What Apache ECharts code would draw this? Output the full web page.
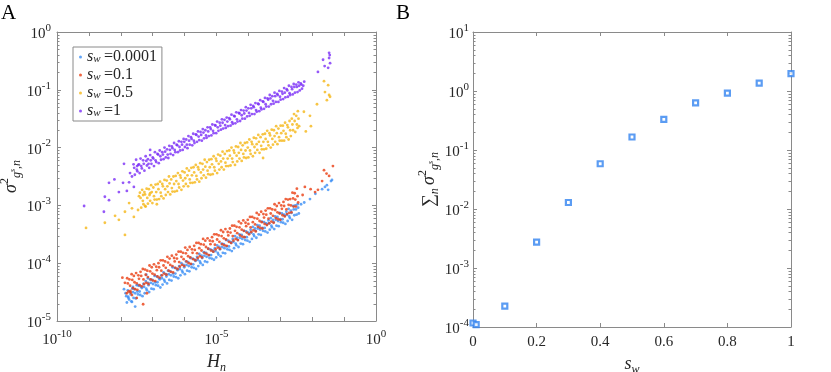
<!DOCTYPE html>
<html>
<head>
<meta charset="utf-8">
<script src="https://cdn.jsdelivr.net/npm/echarts@6/dist/echarts.min.js"></script>
<style>
html,body{margin:0;padding:0;background:#fff;}
#chart{width:831px;height:372px;}
</style>
</head>
<body>
<div id="chart"></div>
<script>
// panel A: [log10 H_n, log10 sigma^2]
var sw0001 = [
[-7.85,-4.52],[-7.81,-4.68],[-7.83,-4.57],[-7.78,-4.47],[-7.74,-4.63],[-7.76,-4.60],[-7.71,-4.50],[-7.67,-4.66],[-7.69,-4.54],
[-7.64,-4.44],[-7.60,-4.60],[-7.62,-4.50],[-7.57,-4.45],[-7.53,-4.61],[-7.55,-4.52],[-7.50,-4.38],[-7.46,-4.54],[-7.48,-4.49],
[-7.43,-4.39],[-7.39,-4.55],[-7.41,-4.49],[-7.36,-4.41],[-7.32,-4.57],[-7.34,-4.43],[-7.29,-4.36],[-7.25,-4.52],[-7.27,-4.41],
[-7.22,-4.31],[-7.18,-4.47],[-7.20,-4.44],[-7.15,-4.34],[-7.11,-4.50],[-7.13,-4.38],[-7.08,-4.28],[-7.04,-4.44],[-7.06,-4.34],
[-7.01,-4.29],[-6.97,-4.45],[-6.99,-4.36],[-6.94,-4.22],[-6.90,-4.38],[-6.92,-4.33],[-6.87,-4.23],[-6.83,-4.39],[-6.85,-4.33],
[-6.80,-4.26],[-6.76,-4.42],[-6.78,-4.28],[-6.73,-4.21],[-6.69,-4.37],[-6.71,-4.26],[-6.66,-4.16],[-6.62,-4.32],[-6.64,-4.29],
[-6.59,-4.19],[-6.55,-4.35],[-6.57,-4.23],[-6.52,-4.13],[-6.48,-4.29],[-6.50,-4.19],[-6.45,-4.14],[-6.41,-4.30],[-6.43,-4.21],
[-6.38,-4.07],[-6.34,-4.23],[-6.36,-4.18],[-6.31,-4.08],[-6.27,-4.24],[-6.29,-4.18],[-6.24,-4.10],[-6.20,-4.26],[-6.22,-4.12],
[-6.17,-4.05],[-6.13,-4.21],[-6.15,-4.10],[-6.10,-4.00],[-6.06,-4.16],[-6.08,-4.13],[-6.03,-4.03],[-5.99,-4.19],[-6.01,-4.07],
[-5.96,-3.97],[-5.92,-4.13],[-5.94,-4.03],[-5.89,-3.98],[-5.85,-4.14],[-5.87,-4.05],[-5.82,-3.91],[-5.78,-4.07],[-5.80,-4.02],
[-5.75,-3.92],[-5.71,-4.08],[-5.73,-4.02],[-5.68,-3.94],[-5.64,-4.10],[-5.66,-3.96],[-5.61,-3.89],[-5.57,-4.05],[-5.59,-3.94],
[-5.54,-3.84],[-5.50,-4.00],[-5.52,-3.97],[-5.47,-3.87],[-5.43,-4.03],[-5.45,-3.91],[-5.40,-3.81],[-5.36,-3.97],[-5.38,-3.87],
[-5.33,-3.82],[-5.29,-3.98],[-5.31,-3.89],[-5.26,-3.75],[-5.22,-3.91],[-5.24,-3.86],[-5.19,-3.76],[-5.15,-3.92],[-5.17,-3.86],
[-5.12,-3.78],[-5.08,-3.94],[-5.10,-3.80],[-5.05,-3.74],[-5.01,-3.90],[-5.03,-3.79],[-4.98,-3.69],[-4.94,-3.85],[-4.96,-3.82],
[-4.91,-3.72],[-4.87,-3.88],[-4.89,-3.76],[-4.84,-3.66],[-4.80,-3.82],[-4.82,-3.72],[-4.77,-3.67],[-4.73,-3.83],[-4.75,-3.74],
[-4.70,-3.60],[-4.66,-3.76],[-4.68,-3.71],[-4.63,-3.61],[-4.59,-3.77],[-4.61,-3.71],[-4.56,-3.63],[-4.52,-3.79],[-4.54,-3.65],
[-4.49,-3.58],[-4.45,-3.74],[-4.47,-3.63],[-4.42,-3.53],[-4.38,-3.69],[-4.40,-3.66],[-4.35,-3.56],[-4.31,-3.72],[-4.33,-3.60],
[-4.28,-3.50],[-4.24,-3.66],[-4.26,-3.56],[-4.21,-3.51],[-4.17,-3.67],[-4.19,-3.58],[-4.14,-3.44],[-4.10,-3.60],[-4.12,-3.55],
[-4.07,-3.45],[-4.03,-3.61],[-4.05,-3.55],[-4.00,-3.47],[-3.96,-3.63],[-3.98,-3.49],[-3.93,-3.42],[-3.89,-3.58],[-3.91,-3.47],
[-3.86,-3.37],[-3.82,-3.53],[-3.84,-3.50],[-3.79,-3.40],[-3.75,-3.56],[-3.77,-3.44],[-3.72,-3.34],[-3.68,-3.50],[-3.70,-3.40],
[-3.65,-3.35],[-3.61,-3.51],[-3.63,-3.42],[-3.58,-3.28],[-3.54,-3.44],[-3.56,-3.39],[-3.51,-3.29],[-3.47,-3.45],[-3.49,-3.39],
[-3.44,-3.31],[-3.40,-3.47],[-3.42,-3.33],[-3.37,-3.26],[-3.33,-3.42],[-3.35,-3.31],[-3.30,-3.22],[-3.26,-3.38],[-3.28,-3.35],
[-3.23,-3.25],[-3.19,-3.41],[-3.21,-3.29],[-3.16,-3.19],[-3.12,-3.35],[-3.14,-3.25],[-3.09,-3.20],[-3.05,-3.36],[-3.07,-3.27],
[-3.02,-3.13],[-2.98,-3.29],[-3.00,-3.24],[-2.95,-3.14],[-2.91,-3.30],[-2.93,-3.24],[-2.88,-3.16],[-2.84,-3.32],[-2.86,-3.18],
[-2.81,-3.11],[-2.77,-3.27],[-2.79,-3.16],[-2.74,-3.06],[-2.70,-3.22],[-2.72,-3.19],[-2.67,-3.09],[-2.63,-3.25],[-2.65,-3.13],
[-2.60,-3.01],[-2.56,-3.17],[-2.58,-3.07],[-2.53,-3.00],[-2.49,-3.16],[-2.51,-3.07],[-2.46,-2.98],[-2.42,-3.14],[-2.44,-3.04],
[-7.65,-4.67],[-7.77,-4.58],[-7.62,-4.41],[-7.46,-4.38],[-7.15,-4.26],[-7.90,-4.45],[-7.55,-4.75],[-7.20,-4.20],
[-1.54,-2.65],[-1.41,-2.58],[-1.38,-2.56],[-1.69,-2.72],[-2.07,-2.89],[-1.50,-2.73],[-2.25,-2.95],[-1.90,-2.80],[-2.35,-2.98],[-1.60,-2.68]
];
var sw01 = [
[-7.80,-4.26],[-7.76,-4.49],[-7.78,-4.35],[-7.73,-4.28],[-7.69,-4.51],[-7.71,-4.39],[-7.66,-4.19],[-7.62,-4.43],[-7.64,-4.29],
[-7.59,-4.22],[-7.55,-4.45],[-7.57,-4.33],[-7.52,-4.17],[-7.48,-4.46],[-7.50,-4.35],[-7.45,-4.21],[-7.41,-4.38],[-7.43,-4.27],
[-7.38,-4.15],[-7.34,-4.40],[-7.36,-4.22],[-7.31,-4.10],[-7.27,-4.36],[-7.29,-4.28],[-7.24,-4.11],[-7.20,-4.34],[-7.22,-4.20],
[-7.17,-4.13],[-7.13,-4.36],[-7.15,-4.24],[-7.10,-4.04],[-7.06,-4.28],[-7.08,-4.14],[-7.03,-4.07],[-6.99,-4.30],[-7.01,-4.18],
[-6.96,-4.02],[-6.92,-4.31],[-6.94,-4.20],[-6.89,-4.06],[-6.85,-4.23],[-6.87,-4.12],[-6.82,-4.00],[-6.78,-4.25],[-6.80,-4.07],
[-6.75,-3.95],[-6.71,-4.21],[-6.73,-4.13],[-6.68,-3.95],[-6.64,-4.18],[-6.66,-4.04],[-6.61,-3.97],[-6.57,-4.20],[-6.59,-4.08],
[-6.54,-3.89],[-6.50,-4.13],[-6.52,-3.99],[-6.47,-3.92],[-6.43,-4.15],[-6.45,-4.03],[-6.40,-3.87],[-6.36,-4.16],[-6.38,-4.05],
[-6.33,-3.91],[-6.29,-4.08],[-6.31,-3.97],[-6.26,-3.85],[-6.22,-4.10],[-6.24,-3.92],[-6.19,-3.80],[-6.15,-4.06],[-6.17,-3.98],
[-6.12,-3.80],[-6.08,-4.03],[-6.10,-3.89],[-6.05,-3.82],[-6.01,-4.05],[-6.03,-3.93],[-5.98,-3.73],[-5.94,-3.97],[-5.96,-3.83],
[-5.91,-3.77],[-5.87,-4.00],[-5.89,-3.88],[-5.84,-3.72],[-5.80,-4.01],[-5.82,-3.90],[-5.77,-3.76],[-5.73,-3.93],[-5.75,-3.82],
[-5.70,-3.70],[-5.66,-3.95],[-5.68,-3.77],[-5.63,-3.65],[-5.59,-3.91],[-5.61,-3.83],[-5.56,-3.65],[-5.52,-3.88],[-5.54,-3.74],
[-5.49,-3.67],[-5.45,-3.90],[-5.47,-3.78],[-5.42,-3.58],[-5.38,-3.82],[-5.40,-3.68],[-5.35,-3.61],[-5.31,-3.84],[-5.33,-3.72],
[-5.28,-3.57],[-5.24,-3.86],[-5.26,-3.75],[-5.21,-3.61],[-5.17,-3.78],[-5.19,-3.67],[-5.14,-3.55],[-5.10,-3.80],[-5.12,-3.62],
[-5.07,-3.50],[-5.03,-3.76],[-5.05,-3.68],[-5.00,-3.50],[-4.96,-3.73],[-4.98,-3.59],[-4.93,-3.52],[-4.89,-3.75],[-4.91,-3.63],
[-4.86,-3.43],[-4.82,-3.67],[-4.84,-3.53],[-4.79,-3.46],[-4.75,-3.69],[-4.77,-3.57],[-4.72,-3.41],[-4.68,-3.70],[-4.70,-3.59],
[-4.65,-3.46],[-4.61,-3.63],[-4.63,-3.52],[-4.58,-3.40],[-4.54,-3.65],[-4.56,-3.47],[-4.51,-3.35],[-4.47,-3.61],[-4.49,-3.53],
[-4.44,-3.35],[-4.40,-3.58],[-4.42,-3.44],[-4.37,-3.37],[-4.33,-3.60],[-4.35,-3.48],[-4.30,-3.28],[-4.26,-3.52],[-4.28,-3.38],
[-4.23,-3.31],[-4.19,-3.54],[-4.21,-3.42],[-4.16,-3.26],[-4.12,-3.55],[-4.14,-3.44],[-4.09,-3.30],[-4.05,-3.47],[-4.07,-3.36],
[-4.02,-3.25],[-3.98,-3.50],[-4.00,-3.32],[-3.95,-3.20],[-3.91,-3.46],[-3.93,-3.38],[-3.88,-3.20],[-3.84,-3.43],[-3.86,-3.29],
[-3.81,-3.22],[-3.77,-3.45],[-3.79,-3.33],[-3.74,-3.13],[-3.70,-3.37],[-3.72,-3.23],[-3.67,-3.16],[-3.63,-3.39],[-3.65,-3.27],
[-3.60,-3.11],[-3.56,-3.40],[-3.58,-3.29],[-3.53,-3.15],[-3.49,-3.32],[-3.51,-3.21],[-3.46,-3.09],[-3.42,-3.34],[-3.44,-3.16],
[-3.39,-3.05],[-3.35,-3.31],[-3.37,-3.23],[-3.32,-3.05],[-3.28,-3.28],[-3.30,-3.14],[-3.25,-3.07],[-3.21,-3.30],[-3.23,-3.18],
[-3.18,-2.98],[-3.14,-3.22],[-3.16,-3.08],[-3.11,-3.01],[-3.07,-3.24],[-3.09,-3.12],[-3.04,-2.96],[-3.00,-3.25],[-3.02,-3.14],
[-2.97,-3.00],[-2.93,-3.17],[-2.95,-3.06],[-2.90,-2.94],[-2.86,-3.19],[-2.88,-3.01],[-2.83,-2.89],[-2.79,-3.15],[-2.81,-3.07],
[-2.76,-2.90],[-2.72,-3.13],[-2.74,-2.99],[-2.69,-2.89],[-2.65,-3.12],[-2.67,-3.00],[-2.62,-2.78],[-2.58,-3.02],[-2.60,-2.88],
[-2.55,-2.79],[-2.51,-3.02],[-2.53,-2.90],[-2.48,-2.71],[-2.44,-2.95],[-2.46,-2.84],
[-7.87,-4.34],[-7.81,-4.52],[-7.65,-4.55],[-7.30,-4.71],[-7.70,-4.48],[-7.18,-4.52],[-7.95,-4.25],[-7.50,-4.60],
[-2.23,-2.68],[-1.82,-2.73],[-1.69,-2.58],[-1.63,-2.39],[-1.47,-2.49],[-1.35,-2.32],[-1.91,-2.77],[-2.05,-2.72],[-1.55,-2.45],[-2.30,-2.82]
];
var sw05 = [
[-7.40,-2.78],[-7.36,-3.04],[-7.38,-2.87],[-7.33,-2.73],[-7.29,-2.98],[-7.31,-2.92],[-7.26,-2.77],[-7.22,-3.02],[-7.24,-2.81],
[-7.19,-2.71],[-7.15,-2.97],[-7.17,-2.87],[-7.12,-2.72],[-7.08,-2.92],[-7.10,-2.82],[-7.05,-2.65],[-7.01,-2.96],[-7.03,-2.77],
[-6.98,-2.69],[-6.94,-2.90],[-6.96,-2.84],[-6.91,-2.64],[-6.87,-2.90],[-6.89,-2.77],[-6.84,-2.63],[-6.80,-2.89],[-6.82,-2.72],
[-6.77,-2.59],[-6.73,-2.84],[-6.75,-2.78],[-6.70,-2.63],[-6.66,-2.88],[-6.68,-2.67],[-6.63,-2.56],[-6.59,-2.82],[-6.61,-2.72],
[-6.56,-2.57],[-6.52,-2.77],[-6.54,-2.67],[-6.49,-2.50],[-6.45,-2.81],[-6.47,-2.62],[-6.42,-2.55],[-6.38,-2.76],[-6.40,-2.70],
[-6.35,-2.50],[-6.31,-2.76],[-6.33,-2.63],[-6.28,-2.49],[-6.24,-2.75],[-6.26,-2.58],[-6.21,-2.44],[-6.17,-2.69],[-6.19,-2.63],
[-6.14,-2.48],[-6.10,-2.73],[-6.12,-2.52],[-6.07,-2.41],[-6.03,-2.67],[-6.05,-2.57],[-6.00,-2.43],[-5.96,-2.63],[-5.98,-2.53],
[-5.93,-2.36],[-5.89,-2.67],[-5.91,-2.48],[-5.86,-2.40],[-5.82,-2.61],[-5.84,-2.55],[-5.79,-2.35],[-5.75,-2.61],[-5.77,-2.48],
[-5.72,-2.34],[-5.68,-2.60],[-5.70,-2.43],[-5.65,-2.30],[-5.61,-2.55],[-5.63,-2.49],[-5.58,-2.34],[-5.54,-2.59],[-5.56,-2.38],
[-5.51,-2.27],[-5.47,-2.53],[-5.49,-2.43],[-5.44,-2.28],[-5.40,-2.48],[-5.42,-2.38],[-5.37,-2.21],[-5.33,-2.52],[-5.35,-2.33],
[-5.30,-2.25],[-5.26,-2.46],[-5.28,-2.40],[-5.23,-2.21],[-5.19,-2.47],[-5.21,-2.34],[-5.16,-2.20],[-5.12,-2.46],[-5.14,-2.29],
[-5.09,-2.15],[-5.05,-2.40],[-5.07,-2.34],[-5.02,-2.19],[-4.98,-2.44],[-5.00,-2.23],[-4.95,-2.12],[-4.91,-2.38],[-4.93,-2.28],
[-4.88,-2.14],[-4.84,-2.34],[-4.86,-2.24],[-4.81,-2.07],[-4.77,-2.38],[-4.79,-2.19],[-4.74,-2.11],[-4.70,-2.32],[-4.72,-2.26],
[-4.67,-2.06],[-4.63,-2.32],[-4.65,-2.19],[-4.60,-2.05],[-4.56,-2.31],[-4.58,-2.14],[-4.53,-2.00],[-4.49,-2.25],[-4.51,-2.19],
[-4.46,-2.05],[-4.42,-2.30],[-4.44,-2.09],[-4.39,-1.98],[-4.35,-2.24],[-4.37,-2.14],[-4.32,-1.99],[-4.28,-2.19],[-4.30,-2.09],
[-4.25,-1.92],[-4.21,-2.23],[-4.23,-2.04],[-4.18,-1.96],[-4.14,-2.17],[-4.16,-2.11],[-4.11,-1.92],[-4.07,-2.18],[-4.09,-2.05],
[-4.04,-1.91],[-4.00,-2.17],[-4.02,-2.00],[-3.97,-1.86],[-3.93,-2.11],[-3.95,-2.05],[-3.90,-1.90],[-3.86,-2.15],[-3.88,-1.94],
[-3.83,-1.83],[-3.79,-2.09],[-3.81,-1.99],[-3.76,-1.84],[-3.72,-2.04],[-3.74,-1.94],[-3.69,-1.78],[-3.65,-2.09],[-3.67,-1.90],
[-3.62,-1.82],[-3.58,-2.03],[-3.60,-1.97],[-3.55,-1.77],[-3.51,-2.03],[-3.53,-1.90],[-3.48,-1.76],[-3.44,-2.02],[-3.46,-1.85],
[-3.41,-1.71],[-3.37,-1.96],[-3.39,-1.90],[-3.34,-1.75],[-3.30,-2.00],[-3.32,-1.79],[-3.27,-1.69],[-3.23,-1.95],[-3.25,-1.85],
[-3.20,-1.70],[-3.16,-1.90],[-3.18,-1.80],[-3.13,-1.63],[-3.09,-1.94],[-3.11,-1.75],[-3.06,-1.67],[-3.02,-1.88],[-3.04,-1.82],
[-2.99,-1.62],[-2.95,-1.88],[-2.97,-1.75],[-2.92,-1.62],[-2.88,-1.88],[-2.90,-1.71],[-2.85,-1.57],[-2.81,-1.82],[-2.83,-1.76],
[-2.78,-1.61],[-2.74,-1.86],[-2.76,-1.65],[-2.71,-1.54],[-2.67,-1.80],[-2.69,-1.70],[-2.64,-1.50],[-2.60,-1.70],[-2.62,-1.60],
[-2.57,-1.42],[-2.53,-1.73],[-2.55,-1.54],[-2.50,-1.45],[-2.46,-1.66],[-2.48,-1.60],[-2.45,-1.37],[-2.41,-1.63],[-2.43,-1.50],
[-9.09,-3.39],[-8.18,-3.18],[-8.06,-3.25],[-7.87,-3.11],[-7.74,-2.96],[-7.59,-3.20],[-7.46,-3.08],[-7.43,-2.84],[-7.30,-2.82],
[-7.24,-3.01],[-7.08,-2.79],[-6.87,-2.98],[-7.87,-3.51],[-8.50,-3.30],[-7.65,-3.05],[-3.54,-2.18],
[-2.26,-1.38],[-2.04,-1.63],[-2.07,-1.45],[-1.85,-1.25],[-1.63,-0.85],[-1.60,-1.04],[-1.47,-1.09],[-1.54,-1.18],[-1.50,-0.92],[-1.44,-1.12],[-2.20,-1.72]
];
var sw1 = [
[-7.60,-2.29],[-7.56,-2.47],[-7.58,-2.35],[-7.52,-2.21],[-7.48,-2.41],[-7.50,-2.38],[-7.45,-2.30],[-7.41,-2.44],[-7.43,-2.29],
[-7.38,-2.19],[-7.34,-2.36],[-7.36,-2.32],[-7.30,-2.22],[-7.26,-2.40],[-7.28,-2.28],[-7.22,-2.15],[-7.18,-2.31],[-7.20,-2.23],
[-7.15,-2.20],[-7.11,-2.35],[-7.13,-2.28],[-7.08,-2.13],[-7.04,-2.28],[-7.06,-2.22],[-7.00,-2.17],[-6.96,-2.32],[-6.98,-2.19],
[-6.93,-2.08],[-6.89,-2.25],[-6.91,-2.22],[-6.85,-2.11],[-6.81,-2.27],[-6.83,-2.12],[-6.78,-2.05],[-6.74,-2.21],[-6.76,-2.15],
[-6.70,-2.08],[-6.66,-2.20],[-6.68,-2.12],[-6.63,-2.00],[-6.59,-2.17],[-6.61,-2.07],[-6.55,-2.03],[-6.51,-2.18],[-6.53,-2.12],
[-6.48,-1.97],[-6.44,-2.11],[-6.46,-2.04],[-6.40,-1.98],[-6.36,-2.13],[-6.38,-2.01],[-6.33,-1.92],[-6.29,-2.08],[-6.31,-2.04],
[-6.25,-1.95],[-6.21,-2.08],[-6.23,-1.96],[-6.18,-1.89],[-6.14,-2.05],[-6.16,-1.99],[-6.10,-1.90],[-6.06,-2.04],[-6.08,-1.95],
[-6.03,-1.85],[-5.99,-1.99],[-6.01,-1.90],[-5.95,-1.86],[-5.91,-2.01],[-5.93,-1.95],[-5.88,-1.80],[-5.84,-1.95],[-5.86,-1.88],
[-5.80,-1.82],[-5.76,-1.96],[-5.78,-1.85],[-5.73,-1.76],[-5.69,-1.92],[-5.71,-1.88],[-5.65,-1.77],[-5.61,-1.90],[-5.63,-1.78],
[-5.58,-1.72],[-5.54,-1.87],[-5.56,-1.81],[-5.50,-1.73],[-5.46,-1.88],[-5.48,-1.78],[-5.43,-1.68],[-5.39,-1.84],[-5.41,-1.74],
[-5.35,-1.70],[-5.31,-1.83],[-5.33,-1.79],[-5.28,-1.65],[-5.24,-1.80],[-5.26,-1.72],[-5.20,-1.65],[-5.16,-1.79],[-5.18,-1.68],
[-5.13,-1.60],[-5.09,-1.75],[-5.11,-1.71],[-5.05,-1.61],[-5.01,-1.75],[-5.03,-1.62],[-4.98,-1.55],[-4.94,-1.71],[-4.96,-1.65],
[-4.90,-1.57],[-4.86,-1.69],[-4.88,-1.62],[-4.83,-1.51],[-4.79,-1.67],[-4.81,-1.57],[-4.75,-1.52],[-4.71,-1.66],[-4.73,-1.61],
[-4.68,-1.48],[-4.64,-1.63],[-4.66,-1.55],[-4.60,-1.49],[-4.56,-1.62],[-4.58,-1.51],[-4.53,-1.43],[-4.49,-1.59],[-4.51,-1.56],
[-4.45,-1.45],[-4.41,-1.58],[-4.43,-1.46],[-4.38,-1.39],[-4.34,-1.55],[-4.36,-1.51],[-4.30,-1.40],[-4.26,-1.54],[-4.28,-1.41],
[-4.23,-1.35],[-4.19,-1.50],[-4.21,-1.44],[-4.15,-1.36],[-4.11,-1.50],[-4.13,-1.41],[-4.08,-1.30],[-4.04,-1.46],[-4.06,-1.36],
[-4.00,-1.32],[-3.96,-1.45],[-3.98,-1.40],[-3.93,-1.26],[-3.89,-1.42],[-3.91,-1.32],[-3.85,-1.28],[-3.81,-1.42],[-3.83,-1.30],
[-3.78,-1.23],[-3.74,-1.38],[-3.76,-1.35],[-3.70,-1.24],[-3.66,-1.37],[-3.68,-1.25],[-3.63,-1.18],[-3.59,-1.34],[-3.61,-1.31],
[-3.55,-1.20],[-3.51,-1.33],[-3.53,-1.21],[-3.48,-1.14],[-3.44,-1.29],[-3.46,-1.25],[-3.40,-1.15],[-3.36,-1.29],[-3.38,-1.17],
[-3.33,-1.09],[-3.29,-1.25],[-3.31,-1.15],[-3.25,-1.11],[-3.21,-1.24],[-3.23,-1.19],[-3.18,-1.05],[-3.14,-1.21],[-3.16,-1.11],
[-3.10,-1.07],[-3.06,-1.21],[-3.08,-1.09],[-3.03,-1.02],[-2.99,-1.17],[-3.01,-1.12],[-2.95,-1.03],[-2.91,-1.16],[-2.93,-1.07],
[-2.88,-0.97],[-2.84,-1.13],[-2.86,-1.05],[-2.80,-0.99],[-2.76,-1.12],[-2.78,-1.01],[-2.73,-0.93],[-2.69,-1.09],[-2.71,-1.06],
[-2.65,-0.95],[-2.61,-1.08],[-2.63,-0.99],[-2.58,-0.90],[-2.54,-1.05],[-2.56,-0.95],[-2.50,-0.91],[-2.46,-1.04],[-2.48,-0.95],
[-2.43,-0.87],[-2.39,-1.01],[-2.41,-0.93],[-2.36,-0.89],[-2.32,-0.98],[-2.34,-0.91],
[-9.15,-3.01],[-8.53,-3.11],[-8.50,-2.85],[-8.37,-2.91],[-8.37,-2.61],[-8.06,-2.77],[-7.81,-2.75],[-7.90,-2.28],[-7.93,-2.61],
[-7.74,-2.60],[-7.71,-2.44],[-7.49,-2.32],[-7.08,-2.04],[-7.59,-2.68],[-8.20,-2.55],[-7.65,-2.50],
[-1.82,-0.69],[-1.66,-0.48],[-1.61,-0.59],[-1.47,-0.36],[-1.47,-0.45],[-1.44,-0.54],[-1.50,-0.62],[-1.45,-0.40],[-2.25,-0.86],[-2.28,-0.93]
];
var seriesNamesA = ['0.0001', '0.1', '0.5', '1'];
var seriesColorsA = ['#3b8ef5', '#ea3d12', '#f5b716', '#7a2ef6'];

// panel B
var swValues = [0.0001, 0.01, 0.1, 0.2, 0.3, 0.4, 0.5, 0.6, 0.7, 0.8, 0.9, 1];
var sumSigma = [1.17e-4, 1.1e-4, 2.25e-4, 2.74e-3, 0.0129, 0.0585, 0.166, 0.331, 0.628, 0.918, 1.36, 1.97];

// minor log ticks (2..9 in each decade)
var minorA = [], minorB = [];
for (var e = -5; e < 0; e++) for (var k = 2; k <= 9; k++) minorA.push(k * Math.pow(10, e));
for (var e2 = -4; e2 < 1; e2++) for (var k2 = 2; k2 <= 9; k2++) minorB.push(k2 * Math.pow(10, e2));

var FONT = '"Liberation Serif", "Times New Roman", serif';
var TXT = '#262626';
var AXC = '#8a8a8a';

function toPts(a) {
  return a.map(function (p) { return [Math.pow(10, p[0]), Math.pow(10, p[1])]; });
}
function expOf(v) { return Math.round(Math.log(v) / Math.LN10); }

var powRich = {
  b: {fontFamily: FONT, fontSize: 15, color: TXT, lineHeight: 19, verticalAlign: 'bottom'},
  s: {fontFamily: FONT, fontSize: 11, color: TXT, verticalAlign: 'top'}
};
var nameRich = {
  i: {fontFamily: FONT, fontSize: 18, fontStyle: 'italic', color: TXT, lineHeight: 24, verticalAlign: 'middle'},
  r: {fontFamily: FONT, fontSize: 18, color: TXT, lineHeight: 24, verticalAlign: 'middle'},
  sub: {fontFamily: FONT, fontSize: 12, fontStyle: 'italic', color: TXT, verticalAlign: 'bottom'},
  sup: {fontFamily: FONT, fontSize: 12, color: TXT, verticalAlign: 'top'},
  ss: {fontFamily: FONT, fontSize: 8, fontStyle: 'italic', color: TXT, verticalAlign: 'bottom', padding: [0, 0, 6, 0]}
};

function frame(gridIndex, pos, type, min, max, interval) {
  return {
    gridIndex: gridIndex, position: pos, type: type, min: min, max: max, interval: interval,
    logBase: 10, splitLine: {show: false},
    axisLine: {show: true, onZero: false, lineStyle: {color: AXC, width: 1}},
    axisTick: {show: true, inside: true, length: 4, lineStyle: {color: AXC}},
    axisLabel: {show: false}
  };
}

var xA = frame(0, 'bottom', 'log', 1e-10, 1, 1);
xA.axisLabel = {show: true, margin: 8, rich: powRich,
  formatter: function (v) { var e = expOf(v); return e % 5 === 0 ? '{b|10}{s|' + e + '}' : ''; }};
xA.name = '{i|H}{sub|n}';
xA.nameLocation = 'middle'; xA.nameGap = 28;
xA.nameTextStyle = {rich: nameRich};

var yA = frame(0, 'left', 'log', 1e-5, 1, 1);
yA.axisLabel = {show: true, margin: 6, rich: powRich,
  formatter: function (v) { return '{b|10}{s|' + expOf(v) + '}'; }};
yA.name = '{i|σ}{sup|2}{sub|g}{ss|s}{sub|,n}';
yA.nameLocation = 'middle'; yA.nameGap = 34; yA.nameRotate = 90;
yA.nameTextStyle = {rich: nameRich};

var xB = frame(1, 'bottom', 'value', 0, 1, 0.2);
xB.axisLabel = {show: true, margin: 8, fontFamily: FONT, fontSize: 15, color: TXT};
xB.name = '{i|s}{sub|w}';
xB.nameLocation = 'middle'; xB.nameGap = 24;
xB.nameTextStyle = {rich: nameRich};

var yB = frame(1, 'left', 'log', 1e-4, 10, 1);
yB.axisLabel = {show: true, margin: 4, rich: powRich,
  formatter: function (v) { return '{b|10}{s|' + expOf(v) + '}'; }};
yB.name = '{r|∑}{sub|n} {i|σ}{sup|2}{sub|g}{ss|s}{sub|,n}';
yB.nameLocation = 'middle'; yB.nameGap = 26; yB.nameRotate = 90;
yB.nameTextStyle = {rich: nameRich};

function minorSeries(vals, xAnchor, xi, yi) {
  return {
    type: 'custom', xAxisIndex: xi, yAxisIndex: yi, silent: true, z: 1,
    data: vals.map(function (v) { return [xAnchor, v]; }),
    renderItem: function (params, api) {
      var cs = params.coordSys;
      var y = Math.round(api.coord([xAnchor, api.value(1)])[1]) + 0.5;
      return {type: 'group', children: [
        {type: 'line', shape: {x1: cs.x, y1: y, x2: cs.x + 2.5, y2: y}, style: {stroke: AXC, lineWidth: 1}},
        {type: 'line', shape: {x1: cs.x + cs.width - 2.5, y1: y, x2: cs.x + cs.width, y2: y}, style: {stroke: AXC, lineWidth: 1}}
      ]};
    }
  };
}

var dataA = [sw0001, sw01, sw05, sw1];
var series = dataA.map(function (d, i) {
  return {
    name: seriesNamesA[i], type: 'scatter', xAxisIndex: 0, yAxisIndex: 0,
    data: toPts(d), symbol: 'circle', symbolSize: 2.8,
    itemStyle: {color: seriesColorsA[i], opacity: 0.8}
  };
});
series.push({
  type: 'scatter', xAxisIndex: 2, yAxisIndex: 2,
  data: swValues.map(function (s, i) { return [s, sumSigma[i]]; }),
  symbol: 'rect', symbolSize: 5, z: 5,
  itemStyle: {color: '#fff', borderColor: '#3283f0', borderWidth: 2.2}
});
series.push(minorSeries(minorA, 1e-10, 0, 0));
series.push(minorSeries(minorB, 0, 2, 2));

var option = {
  animation: false,
  backgroundColor: '#fff',
  title: [
    {text: 'A', left: 1, top: 3, padding: 0, textStyle: {fontFamily: FONT, fontSize: 21, fontWeight: 'normal', color: '#000'}},
    {text: 'B', left: 396, top: 3, padding: 0, textStyle: {fontFamily: FONT, fontSize: 21, fontWeight: 'normal', color: '#000'}}
  ],
  grid: [
    {left: 57, top: 32, width: 319, height: 289, containLabel: false, outerBoundsMode: 'none'},
    {left: 473, top: 32, width: 318, height: 295, containLabel: false, outerBoundsMode: 'none'}
  ],
  legend: {
    data: seriesNamesA, left: 73, top: 47, orient: 'vertical',
    icon: 'circle', itemWidth: 3, itemHeight: 3, itemGap: 2,
    padding: [2, 5, 2, 6], borderColor: AXC, borderWidth: 1, backgroundColor: '#fff',
    formatter: function (n) { return '{i|s}{w|w} {t|=' + n + '}'; },
    textStyle: {rich: {
      i: {fontFamily: FONT, fontSize: 16, fontStyle: 'italic', color: TXT, lineHeight: 16, verticalAlign: 'middle'},
      w: {fontFamily: FONT, fontSize: 11, fontStyle: 'italic', color: TXT, verticalAlign: 'bottom'},
      t: {fontFamily: FONT, fontSize: 16, color: TXT, lineHeight: 16, verticalAlign: 'middle'}
    }}
  },
  xAxis: [xA, frame(0, 'top', 'log', 1e-10, 1, 1), xB, frame(1, 'top', 'value', 0, 1, 0.2)],
  yAxis: [yA, frame(0, 'right', 'log', 1e-5, 1, 1), yB, frame(1, 'right', 'log', 1e-4, 10, 1)],
  series: series
};

var myChart = echarts.init(document.getElementById('chart'), null, {renderer: 'canvas'});
myChart.setOption(option);
</script>
</body>
</html>
